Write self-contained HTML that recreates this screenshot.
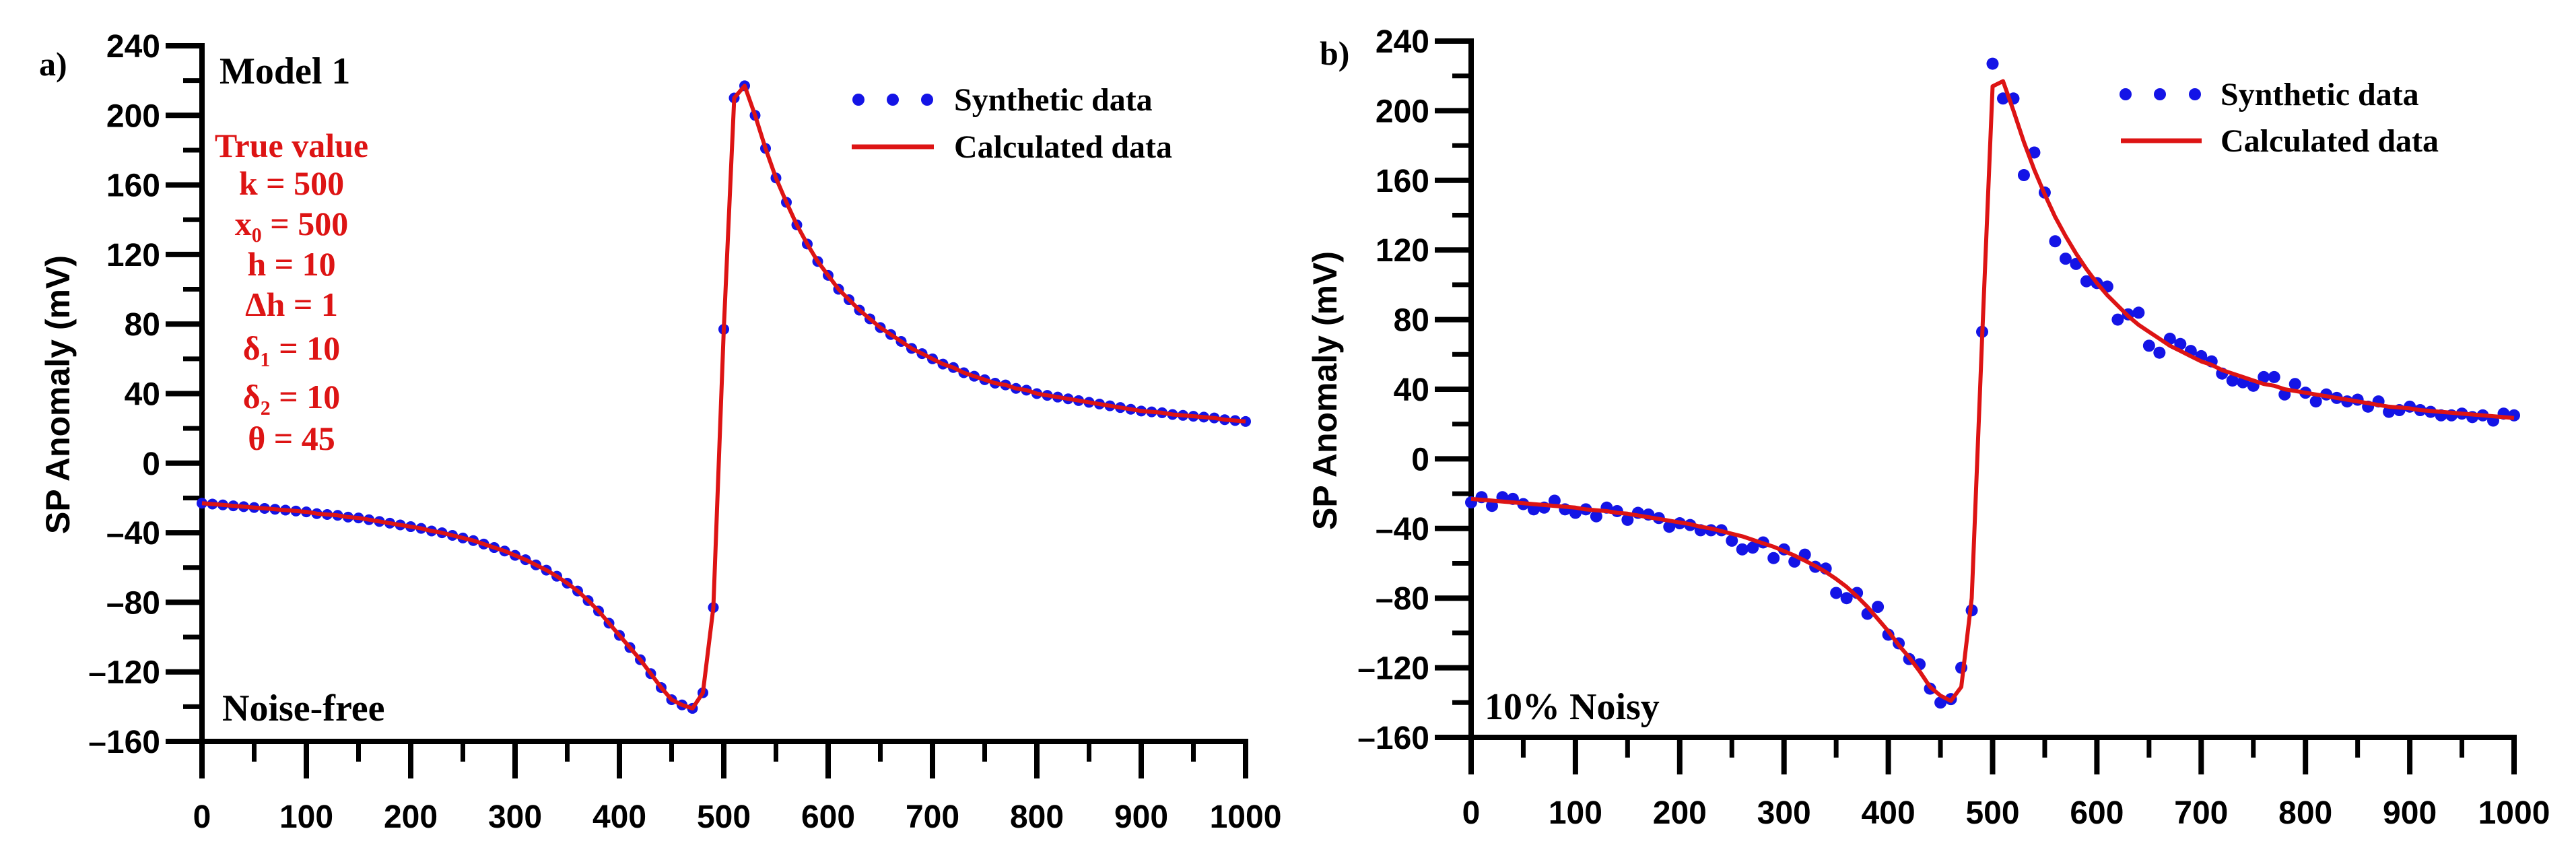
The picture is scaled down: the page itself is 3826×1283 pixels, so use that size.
<!DOCTYPE html>
<html><head><meta charset="utf-8"><style>
html,body{margin:0;padding:0;background:#fff;}
svg{display:block;}
</style></head><body>
<svg id="chart" width="3826" height="1283" viewBox="0 0 3826 1283" xmlns="http://www.w3.org/2000/svg">
<g id="panelA"></g>
<g id="panelB"></g>
</svg>
<script>
const xValues = [0,10,20,30,40,50,60,70,80,90,100,110,120,130,140,150,160,170,180,190,200,210,220,230,240,250,260,270,280,290,300,310,320,330,340,350,360,370,380,390,400,410,420,430,440,450,460,470,480,490,500,510,520,530,540,550,560,570,580,590,600,610,620,630,640,650,660,670,680,690,700,710,720,730,740,750,760,770,780,790,800,810,820,830,840,850,860,870,880,890,900,910,920,930,940,950,960,970,980,990,1000];
const syntheticA = [-23,-23.5,-24,-24.5,-25,-25.5,-26,-26.5,-27,-27.5,-28,-29,-29.5,-30,-31,-31.5,-32.5,-33.5,-34.5,-35.5,-36.5,-37.5,-39,-40,-41.5,-43,-44.5,-46.5,-48.5,-50.5,-53,-55.5,-58.5,-61.5,-65,-69,-73.5,-79,-85,-92,-99,-106,-113,-121,-129,-136,-139,-141,-132,-83,77,210,217,200,181,164,150,137,126,116,108,100,94,88,83,78,74,70,66,63,60,57,55,52,50,48,46,45,43,42,40,39,38,37,36,35,34,33,32,31,30,29.5,29,28,27.5,27,26.5,26,25,24.5,24];
const calculatedA = [-23,-23.5,-24,-24.5,-25,-25.5,-26,-26.5,-27,-27.5,-28,-29,-29.5,-30,-31,-31.5,-32.5,-33.5,-34.5,-35.5,-36.5,-37.5,-39,-40,-41.5,-43,-44.5,-46.5,-48.5,-50.5,-53,-55.5,-58.5,-61.5,-65,-69,-73.5,-79,-85,-92,-99,-106,-113,-121,-129,-136,-139,-141,-132,-83,77,210,217,200,181,164,150,137,126,116,108,100,94,88,83,78,74,70,66,63,60,57,55,52,50,48,46,45,43,42,40,39,38,37,36,35,34,33,32,31,30,29.5,29,28,27.5,27,26.5,26,25,24.5,24];
const syntheticB = [-25,-22,-27,-22,-23,-26,-29,-28,-24,-29,-31,-29,-33,-28,-30,-35,-31,-32,-34,-39,-37,-38,-41,-41,-41,-47,-52,-51,-48,-57,-52,-59,-55,-62,-63,-77,-80,-77,-89,-85,-101,-106,-115,-118,-132,-140,-138,-120,-87,73,227,207,207,163,176,153,125,115,112,102,101,99,80,83,84,65,61,69,66,62,59,56,49,45,44,42,47,47,37,43,38,33,37,35,33,34,30,33,27,28,30,28,27,25,25,26,24,25,22,26,25];
const calculatedB = [-23,-23.5,-24,-24.5,-25,-25.5,-26,-26.5,-27,-27.5,-28,-29,-29.5,-30,-31,-31.5,-32.5,-33.5,-34.5,-35.5,-36.5,-37.5,-39,-40,-41.5,-43,-44.5,-46.5,-48.5,-50.5,-53,-55.5,-58.5,-61.5,-65,-69,-73.5,-79,-85,-92,-99,-107,-114,-122,-131,-136,-139,-131,-80,70,214,217,200,182,166,152,139,128,118,109,101,94,88,82,77,73,69,65,62,59,56,54,51,49,47,45,43,42,40,39,38,37,36,35,34,33,32,31,30,29.5,29,28,27.5,27,26.5,26,25.5,25,24.5,24,23.5];
const yTicks = [240,200,160,120,80,40,0,-40,-80,-120,-160];
const yTickLabels = ["240","200","160","120","80","40","0","\u201340","\u201380","\u2013120","\u2013160"];
const xTicks = [0,100,200,300,400,500,600,700,800,900,1000];
const xTickLabels = ["0","100","200","300","400","500","600","700","800","900","1000"];

const NS = "http://www.w3.org/2000/svg";
function mk(parent, tag, attrs, text){
  const e = document.createElementNS(NS, tag);
  for (const k in attrs) e.setAttribute(k, attrs[k]);
  if (text !== undefined) e.textContent = text;
  parent.appendChild(e); return e;
}
const RED = "#dd1414", BLUE = "#1414e6";

function drawPanel(g, cfg){
  const X = v => cfg.x0 + (v - 0) / 1000 * (cfg.x1 - cfg.x0);
  const Y = v => cfg.yTop + (240 - v) / 400 * (cfg.yBot - cfg.yTop);
  const sans = '"Liberation Sans", Arial, sans-serif';
  const serif = '"Liberation Serif", "Times New Roman", serif';
  for (let v = -140; v < 240; v += 40) {
    const t = mk(g, "line", {x1: cfg.x0 - 28, x2: cfg.x0, y1: Y(v), y2: Y(v), stroke: "#000", "stroke-width": 7});
    
    
  }
  yTicks.forEach((v, i) => {
    const t = mk(g, "line", {x1: cfg.x0 - 54, x2: cfg.x0, y1: Y(v), y2: Y(v), stroke: "#000", "stroke-width": 8});
    
    
    const l = mk(g, "text", {x: cfg.x0 - 62, y: Y(v) + 17, "text-anchor": "end", "font-family": sans, "font-weight": "bold", "font-size": 48}, yTickLabels[i]);
    
    
  });
  for (let v = 50; v < 1000; v += 100) {
    const t = mk(g, "line", {x1: X(v), x2: X(v), y1: cfg.yBot, y2: cfg.yBot + 30, stroke: "#000", "stroke-width": 7});
    
    
  }
  xTicks.forEach((v, i) => {
    const t = mk(g, "line", {x1: X(v), x2: X(v), y1: cfg.yBot, y2: cfg.yBot + 55, stroke: "#000", "stroke-width": 8});
    
    
    const l = mk(g, "text", {x: X(v), y: cfg.yBot + 128, "text-anchor": "middle", "font-family": sans, "font-weight": "bold", "font-size": 48}, xTickLabels[i]);
    
    
  });
  const ya = mk(g, "line", {x1: cfg.x0, x2: cfg.x0, y1: Y(240) - 4, y2: cfg.yBot + 55, stroke: "#000", "stroke-width": 8});
  
  
  const xa = mk(g, "line", {x1: cfg.x0 - 54, x2: cfg.x1 + 4, y1: cfg.yBot, y2: cfg.yBot, stroke: "#000", "stroke-width": 8});
  
  
  const yt = mk(g, "text", {x: 0, y: 0, transform: `translate(${cfg.titleX},${cfg.titleY}) rotate(-90)`, "text-anchor": "middle", "font-family": sans, "font-weight": "bold", "font-size": 50}, "SP Anomaly (mV)");
  
  
  cfg.syn.forEach((v, i) => {
    const c = mk(g, "circle", {cx: X(xValues[i]), cy: Y(v), r: cfg.r, fill: BLUE});
    
    
  });
  const d = cfg.calc.map((v, i) => (i ? "L" : "M") + X(xValues[i]).toFixed(1) + "," + Y(v).toFixed(1)).join("");
  const p = mk(g, "path", {d: d, fill: "none", stroke: RED, "stroke-width": 6, "stroke-linejoin": "round"});
  
  
  const lg = mk(g, "g", {});
  
  
  cfg.legDots.forEach(x => mk(lg, "circle", {cx: x, cy: cfg.legY1, r: 9, fill: BLUE}));
  const l1 = mk(lg, "text", {x: cfg.legTextX, y: cfg.legY1 + 16, "font-family": serif, "font-weight": "bold", "font-size": 48}, "Synthetic data");
  
  
  mk(lg, "line", {x1: cfg.legLine[0], x2: cfg.legLine[1], y1: cfg.legY2, y2: cfg.legY2, stroke: RED, "stroke-width": 7});
  const l2 = mk(lg, "text", {x: cfg.legTextX, y: cfg.legY2 + 16, "font-family": serif, "font-weight": "bold", "font-size": 48}, "Calculated data");
  
  
  const pl = mk(g, "text", {x: cfg.panelLabel[0], y: cfg.panelLabel[1], "font-family": serif, "font-weight": "bold", "font-size": 50}, cfg.panelLabel[2]);
  
  
  const nl = mk(g, "text", {x: cfg.noise[0], y: cfg.noise[1], "font-family": serif, "font-weight": "bold", "font-size": 56}, cfg.noise[2]);
  
  
}

const gA = document.getElementById("panelA");
drawPanel(gA, {x0: 300, x1: 1850, yTop: 68, yBot: 1101, syn: syntheticA, calc: calculatedA, r: 8,
  titleX: 103, titleY: 586, legDots: [1275, 1326, 1377], legY1: 148, legY2: 218, legLine: [1265, 1387], legTextX: 1417,
  panelLabel: [58, 112, "a)"], noise: [330, 1070, "Noise-free"]});
const gB = document.getElementById("panelB");
drawPanel(gB, {x0: 2185, x1: 3734, yTop: 61, yBot: 1095, syn: syntheticB, calc: calculatedB, r: 9,
  titleX: 1985, titleY: 580, legDots: [3157, 3208, 3260], legY1: 140, legY2: 209, legLine: [3150, 3270], legTextX: 3298,
  panelLabel: [1960, 96, "b)"], noise: [2205, 1068, "10% Noisy"]});

const m1 = mk(gA, "text", {x: 326, y: 124, "font-family": '"Liberation Serif", serif', "font-weight": "bold", "font-size": 56}, "Model 1");


const tv = mk(gA, "g", {"font-family": '"Liberation Serif", serif', "font-weight": "bold", "font-size": 50, fill: RED, "text-anchor": "middle"});


const tvLines = [["True value", 217], ["k = 500", 273], ["x\u2080 = 500", 333], ["h = 10", 393], ["\u0394h = 1", 453], ["\u03b4\u2081 = 10", 518], ["\u03b4\u2082 = 10", 590], ["\u03b8 = 45", 652]];
tvLines.forEach(([t, y]) => mk(tv, "text", {x: 433, y: y + 16}, t));
</script>
</body></html>
